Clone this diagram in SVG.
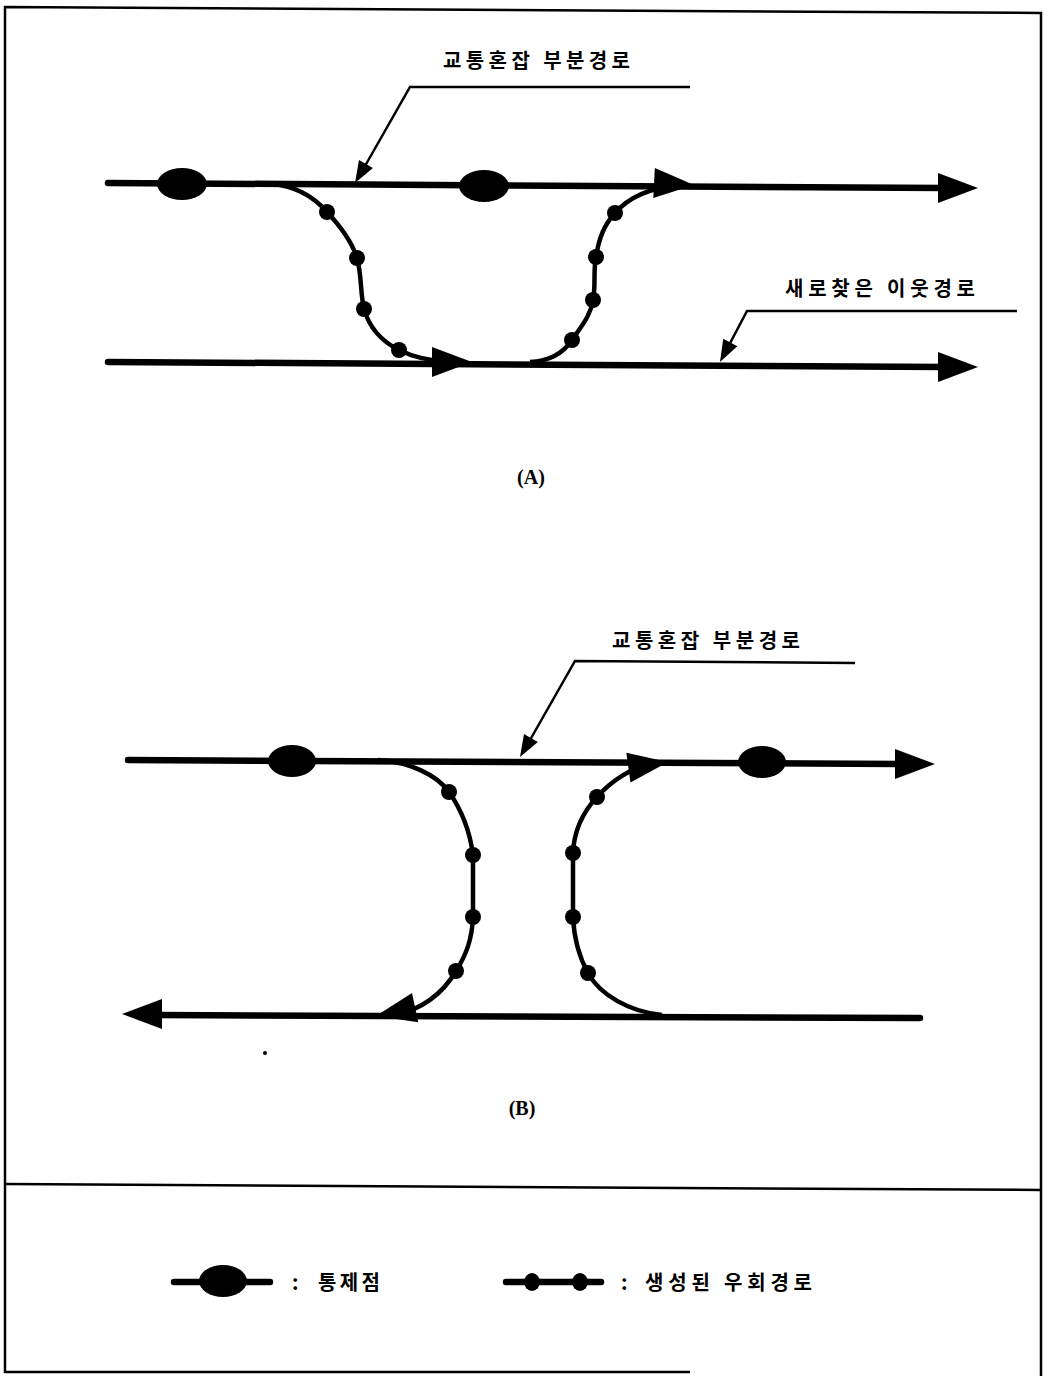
<svg xmlns="http://www.w3.org/2000/svg" width="1052" height="1376" viewBox="0 0 1052 1376">
<style>
.bg{fill:#fff}
.frame{fill:none;stroke:#000;stroke-width:2.5}
.main{fill:none;stroke:#000;stroke-width:6.5;stroke-linecap:round}
.curve{fill:none;stroke:#000;stroke-width:4.5}
.lead{fill:none;stroke:#000;stroke-width:2.5}
.dot{fill:#000}
.ctl{fill:#000}
.kr{font-family:"Noto Sans CJK KR","Noto Sans",sans-serif;font-weight:bold;font-size:20px;fill:#000}
.cap{font-family:"Liberation Serif",serif;font-weight:bold;font-size:20px;fill:#000;text-anchor:middle}
</style>
<defs>
<path id="ah" d="M0,0 L-40,-15 L-40,15 Z" fill="#000"/>
<path id="sah" d="M0,0 L-22,-8 L-22,8 Z" fill="#000"/>
</defs>
<rect class="bg" x="0" y="0" width="1052" height="1376"/>
<g id="frame">
<path class="frame" d="M5,1373 L5,7 L1041,13 L1041,1376"/>
<line class="frame" x1="5" y1="1372" x2="690" y2="1372"/>
<line class="frame" x1="5" y1="1184" x2="1041" y2="1190"/>
</g>
<g id="connectors">
<line class="main" x1="108" y1="183" x2="945" y2="188"/>
<line class="main" x1="108" y1="362" x2="945" y2="367"/>
<path class="curve" d="M272,184 C295,186 314,197 327,212 C342,228 352,242 357,258 C362,276 360,292 364,309 C370,330 383,342 399,350 C415,358 430,361 450,362"/>
<path class="curve" d="M530,362 C552,361 564,352 572,340 C584,323 591,314 593,300 C596,285 593,272 596,257 C599,238 604,225 615,213 C630,196 650,188 676,186"/>
<path class="lead" d="M690,87 L410,87 L365,166"/>
<path class="lead" d="M1017,311 L747,311 L728,347"/>
<line class="main" x1="128" y1="760" x2="900" y2="764"/>
<line class="main" x1="155" y1="1015" x2="920" y2="1018"/>
<path class="curve" d="M378,760 C410,762 437,775 449,792 C463,812 470,832 473,855 L473,917 C472,940 466,955 456,971 C442,995 420,1010 395,1015"/>
<path class="curve" d="M662,1015 C630,1012 600,995 588,973 C578,955 574,938 573,917 L573,853 C574,830 583,812 597,797 C612,780 632,768 650,764"/>
<path class="lead" d="M855,663 L575,661 L530,740"/>
</g>
<g id="arrowheads">
<use href="#ah" transform="translate(978,188)"/>
<use href="#ah" transform="translate(694,185) rotate(3)"/>
<use href="#ah" transform="translate(978,367)"/>
<use href="#ah" transform="translate(472,362)"/>
<use href="#sah" transform="translate(355,183) rotate(119.8)"/>
<use href="#sah" transform="translate(720,362) rotate(117.9)"/>
<use href="#ah" transform="translate(935,764)"/>
<use href="#ah" transform="translate(668,762) rotate(-8)"/>
<use href="#ah" transform="translate(122,1014) rotate(180)"/>
<use href="#ah" transform="translate(376,1016) rotate(168)"/>
<use href="#sah" transform="translate(520,757) rotate(119.8)"/>
</g>
<g id="control-points-A">
<ellipse class="ctl" cx="182" cy="184" rx="25" ry="16"/>
<ellipse class="ctl" cx="484" cy="186" rx="25" ry="16"/>
</g>
<g id="detour-A">
<circle class="dot" cx="327" cy="212" r="8"/>
<circle class="dot" cx="357" cy="258" r="8"/>
<circle class="dot" cx="364" cy="309" r="8"/>
<circle class="dot" cx="399" cy="350" r="8"/>
<circle class="dot" cx="572" cy="340" r="8"/>
<circle class="dot" cx="593" cy="300" r="8"/>
<circle class="dot" cx="596" cy="257" r="8"/>
<circle class="dot" cx="615" cy="213" r="8"/>
</g>
<g id="control-points-B">
<ellipse class="ctl" cx="292" cy="761" rx="24" ry="16"/>
<ellipse class="ctl" cx="762" cy="762" rx="24" ry="16"/>
</g>
<g id="detour-B">
<circle class="dot" cx="449" cy="792" r="8"/>
<circle class="dot" cx="473" cy="855" r="8"/>
<circle class="dot" cx="473" cy="917" r="8"/>
<circle class="dot" cx="456" cy="971" r="8"/>
<circle class="dot" cx="597" cy="797" r="8"/>
<circle class="dot" cx="573" cy="853" r="8"/>
<circle class="dot" cx="573" cy="917" r="8"/>
<circle class="dot" cx="588" cy="973" r="8"/>
<circle class="dot" cx="265" cy="1053" r="2"/>
</g>
<g id="labels">
<text class="kr" x="443" y="68" textLength="187" lengthAdjust="spacing">교통혼잡 부분경로</text>
<text class="kr" x="785" y="296" textLength="190" lengthAdjust="spacing">새로찾은 이웃경로</text>
<text class="kr" x="612" y="648" textLength="188" lengthAdjust="spacing">교통혼잡 부분경로</text>
<text class="cap" x="531" y="484">(A)</text>
<text class="cap" x="522" y="1115">(B)</text>
</g>
<g id="legend-control">
<line class="main" x1="174" y1="1282" x2="270" y2="1282"/>
<ellipse class="ctl" cx="223" cy="1281" rx="24" ry="16"/>
<text class="kr" x="292" y="1290">:</text>
<text class="kr" x="318" y="1290" textLength="62" lengthAdjust="spacing">통제점</text>
</g>
<g id="legend-detour">
<line class="main" x1="506" y1="1282" x2="601" y2="1282"/>
<ellipse class="dot" cx="532" cy="1282" rx="8" ry="9"/>
<ellipse class="dot" cx="580" cy="1282" rx="8" ry="9"/>
<text class="kr" x="621" y="1290">:</text>
<text class="kr" x="645" y="1290" textLength="167" lengthAdjust="spacing">생성된 우회경로</text>
</g>
</svg>
